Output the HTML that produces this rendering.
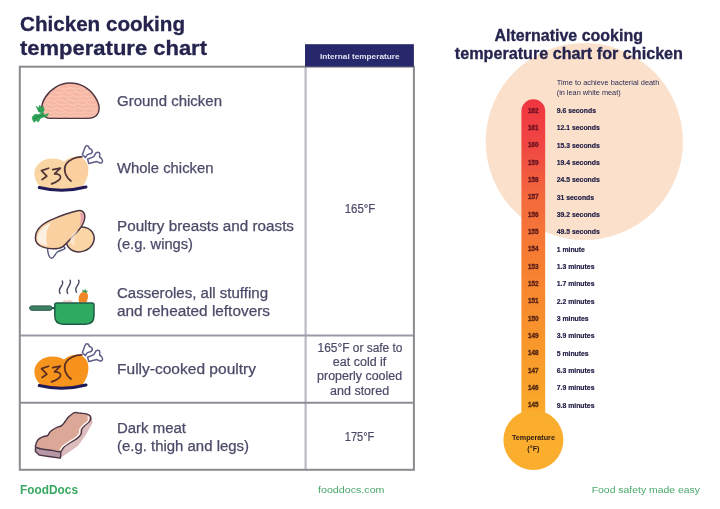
<!DOCTYPE html>
<html lang="en">
<head>
<meta charset="utf-8">
<title>Chicken cooking temperature chart</title>
<style>
html,body{margin:0;padding:0;background:#fff;}
body{width:720px;height:509px;overflow:hidden;position:relative;font-family:"Liberation Sans",sans-serif;}
svg{position:absolute;left:0;top:0;display:block;}
text{font-family:"Liberation Sans",sans-serif;}
.t1{font-weight:700;font-size:20px;fill:#24244e;stroke:#24244e;stroke-width:0.3px;}
.t2{font-weight:700;font-size:15.6px;fill:#24244e;stroke:#24244e;stroke-width:0.3px;}
.lb{font-size:14px;fill:#4b4b69;stroke:#4b4b69;stroke-width:0.25px;}
.tv{font-size:12px;fill:#4b4b69;stroke:#4b4b69;stroke-width:0.2px;text-anchor:middle;}
.ft{font-size:9.6px;fill:#4aa86c;}
.hd{font-size:7.8px;font-weight:700;fill:#e2e2f2;}
.nm{font-size:6.3px;font-weight:700;fill:#5e1420;stroke:#5e1420;stroke-width:0.3px;text-anchor:middle;}
.tm{font-size:7.2px;font-weight:700;fill:#1f1d45;stroke:#1f1d45;stroke-width:0.2px;}
.sm{font-size:7px;fill:#2c2c55;}
.bl{font-size:7.2px;font-weight:700;fill:#2a1a12;text-anchor:middle;}
</style>
</head>
<body>
<svg width="720" height="509" viewBox="0 0 720 509">
<defs>
<linearGradient id="tg" x1="0" y1="0" x2="0" y2="1">
<stop offset="0" stop-color="#f0353f"/>
<stop offset="0.14" stop-color="#f04643"/>
<stop offset="0.3" stop-color="#f3693d"/>
<stop offset="0.5" stop-color="#f67f32"/>
<stop offset="0.75" stop-color="#f8972b"/>
<stop offset="1" stop-color="#fbac2c"/>
</linearGradient>
<filter id="soft" x="0" y="0" width="720" height="509" filterUnits="userSpaceOnUse" color-interpolation-filters="sRGB"><feGaussianBlur stdDeviation="0.62"/></filter>
</defs>
<rect width="720" height="509" fill="#ffffff"/>
<g id="page" filter="url(#soft)">
<rect width="720" height="509" fill="#ffffff"/>

<!-- ===== LEFT: titles ===== -->
<text class="t1" x="20" y="31.3" textLength="165" lengthAdjust="spacingAndGlyphs">Chicken cooking</text>
<text class="t1" x="20" y="55" textLength="187" lengthAdjust="spacingAndGlyphs">temperature chart</text>

<!-- ===== table ===== -->
<g id="table" fill="none">
<line x1="305.6" y1="66.7" x2="305.6" y2="469.8" stroke="#b9b9c4" stroke-width="2.2"/>
<line x1="19.8" y1="335.4" x2="413.9" y2="335.4" stroke="#9a9aa6" stroke-width="2"/>
<line x1="19.8" y1="402.7" x2="413.9" y2="402.7" stroke="#8c8c98" stroke-width="2"/>
<rect x="19.8" y="66.7" width="394.1" height="403.1" stroke="#8a8a90" stroke-width="2"/>
</g>
<rect x="305" y="44.2" width="108.9" height="22.4" fill="#27276b"/>
<text class="hd" x="320" y="58.7" textLength="79.5" lengthAdjust="spacingAndGlyphs">Internal temperature</text>

<!--ICONS-START-->
<!-- ===== icons ===== -->
<g id="icon-ground">
<clipPath id="domeclip"><path d="M45.5 117 C40.8 113.5 40.2 105 45.5 97 C51 88.5 60.5 83 69.5 83 C80 83 89 88 94.8 96.5 C98.6 102 100 108 98.4 112.4 C96.8 116.4 92 118.4 86 118.4 L51 118.4 C48.6 118.4 46.8 118 45.5 117 Z"/></clipPath>
<path d="M45.5 117 C40.8 113.5 40.2 105 45.5 97 C51 88.5 60.5 83 69.5 83 C80 83 89 88 94.8 96.5 C98.6 102 100 108 98.4 112.4 C96.8 116.4 92 118.4 86 118.4 L51 118.4 C48.6 118.4 46.8 118 45.5 117 Z" fill="#f6b7a4"/>
<g fill="none" stroke="#fbd2c3" stroke-width="0.9" stroke-linecap="round" clip-path="url(#domeclip)" opacity="0.85">
<path d="M55.7 88.5 q2.86 -1.8 5.72 0 t5.72 0 t5.72 0 t5.72 0 t5.72 0"/>
<path d="M51.4 92.5 q2.66 -1.8 5.32 0 t5.32 0 t5.32 0 t5.32 0 t5.32 0 t5.32 0 t5.32 0"/>
<path d="M48.3 96.5 q2.71 -1.8 5.42 0 t5.42 0 t5.42 0 t5.42 0 t5.42 0 t5.42 0 t5.42 0 t5.42 0"/>
<path d="M46.0 100.5 q2.66 -1.8 5.32 0 t5.32 0 t5.32 0 t5.32 0 t5.32 0 t5.32 0 t5.32 0 t5.32 0 t5.32 0"/>
<path d="M44.4 104.5 q2.56 -1.8 5.13 0 t5.13 0 t5.13 0 t5.13 0 t5.13 0 t5.13 0 t5.13 0 t5.13 0 t5.13 0 t5.13 0"/>
<path d="M43.2 108.5 q2.68 -1.8 5.36 0 t5.36 0 t5.36 0 t5.36 0 t5.36 0 t5.36 0 t5.36 0 t5.36 0 t5.36 0 t5.36 0"/>
<path d="M42.4 112.5 q2.51 -1.8 5.02 0 t5.02 0 t5.02 0 t5.02 0 t5.02 0 t5.02 0 t5.02 0 t5.02 0 t5.02 0 t5.02 0 t5.02 0"/>
<path d="M42.1 116 q2.54 -1.8 5.08 0 t5.08 0 t5.08 0 t5.08 0 t5.08 0 t5.08 0 t5.08 0 t5.08 0 t5.08 0 t5.08 0 t5.08 0"/>
</g>
<path d="M45.5 117 C40.8 113.5 40.2 105 45.5 97 C51 88.5 60.5 83 69.5 83 C80 83 89 88 94.8 96.5 C98.6 102 100 108 98.4 112.4 C96.8 116.4 92 118.4 86 118.4 L51 118.4 C48.6 118.4 46.8 118 45.5 117 Z" fill="none" stroke="#503542" stroke-width="1.4" stroke-linejoin="round"/>
<g fill="#2fa257" stroke="#2fa257" stroke-width="0.6" stroke-linejoin="round">
<path d="M36 106.2 l2.6 1.8 l1 -2.8 l2.4 2.6 l1.6 -1.2 l0.6 3.6 l-1.6 3 l-4 -1.4 l-1 -2.8 z"/>
<path d="M32.2 117 l2.8 -2.8 l3.6 0.4 l3 -1.6 l3 2 l4 -1.6 l-1.8 3.2 l-3.6 0.6 l-3 1.4 l-1.8 3.4 l-2 -1.4 l-2.4 1.6 l-1.6 -2.8 z"/>
</g>
<path d="M37.5 108.5 l2.5 3 M34.5 118.5 l4 -2.2 l5.5 -0.8" fill="none" stroke="#1f7d45" stroke-width="0.7" stroke-linecap="round"/>
</g>

<g id="icon-chicken" transform="translate(0 -198)">
<g transform="translate(0 198)" fill="#ffffff" stroke="#5e5e88" stroke-width="1.5" stroke-linejoin="round">
<path d="M82.4 154.6 L85 147.6 Q85.6 145.6 87.4 145.9 Q89.2 146.2 89.2 148.6 Q91.6 148.8 92.2 150.6 Q92.8 152.6 90.4 153.8 L87.4 154.6 L85.3 157.6 Z"/>
<path d="M87.6 159.2 L93.8 156.6 L96 152.8 Q97.6 151.6 99.2 152.6 Q100.4 154 99.6 157 Q102.4 158.6 102.6 161 Q102.2 163.4 100.2 163 L96.8 161.6 L88.8 163.6 Z"/>
</g>
<path d="M34.4 371.6 C34.4 363.2 42 356.5 52.2 356.5 C57 356.5 61 357.6 64 359.6 C67 356.4 72 354.8 76.9 354.8 C83.5 354.8 88.4 360.5 88.4 367.2 C88.4 372 87.4 376.4 85.6 379.4 C84.4 382.2 82.6 384.8 80.4 386.4 C72 389 50 389 43 386.6 C38 383.4 34.4 378 34.4 371.6 Z" fill="#f9d5a3"/>
<ellipse cx="77" cy="367.6" rx="11" ry="12.6" fill="#fbcf9f"/>
<path d="M39.2 385.5 Q62.6 391.2 86 385" fill="none" stroke="#211a58" stroke-width="3" stroke-linecap="round"/>
<path d="M81.9 354.9 C76 354.5 69 357.5 65.9 362.4 C63.4 367 64.5 374 71 379" fill="none" stroke="#4f3338" stroke-width="1.7" stroke-linecap="round"/>
<path d="M48.6 366.2 L41.5 368.6 L46.8 374.2 L42.1 377.5 M52.7 367.7 L60.4 366.2 L54.5 371.9 C58.6 371.6 61.2 373.4 60.4 376 C59.6 378.6 55.6 380.4 51.6 381.9" fill="none" stroke="#4f3338" stroke-width="1.7" stroke-linecap="round" stroke-linejoin="round"/>
</g>

<g id="icon-breast">
<ellipse cx="80.2" cy="239.4" rx="14.2" ry="12.2" transform="rotate(-20 80.2 239.4)" fill="#fbd5a6" stroke="#4a3545" stroke-width="1.5"/>
<path d="M47.6 247.4 C47.4 251.5 48.6 257.6 51.4 258.2 C53.8 258.6 54.8 253.8 57.6 251.8 C60.6 250 64 250.2 65.2 248.2 L62 244.6 Z" fill="#ffffff" stroke="#55557f" stroke-width="1.4" stroke-linejoin="round"/>
<path d="M35.4 238 C35.6 229.4 42 224 50 220.4 C60 216 70 212.4 77.6 210.8 C82.4 209.8 85 212.4 84.8 217.2 C84.6 223 80.4 228.6 75.4 233.6 C70.4 238.8 66.4 244 62.4 246.8 C58 249.6 49 249.2 43.6 247.4 C38.6 245.8 35.2 243 35.4 238 Z" fill="#fad0a0" stroke="#4a3545" stroke-width="1.5" stroke-linejoin="round"/>
<path d="M37.4 240.4 C36.8 232.6 42 226 51.5 222.4 C46.5 228.5 45 236.5 47.4 245.6 C42.5 245 38 243.4 37.4 240.4 Z" fill="#fef0e0"/>
<path d="M80 213 C83 212.6 84 215 83.4 218.5 C82.8 221.5 81 224.5 79.5 226 C81 221 81.4 216.8 80 213 Z" fill="#e79ab0"/>
<path d="M70.4 243 C69.4 237.5 73 231.5 78.5 230 C75 234 73.5 239 74.5 246 Z" fill="#fff0df" opacity="0.7"/>
</g>

<g id="icon-casserole">
<g fill="none" stroke="#47475f" stroke-width="1.4" stroke-linecap="round">
<path d="M62.2 281 c2.4 3 -3 6.4 -2.8 9.6 c0.1 1.4 0.3 2.2 0.6 2.8"/>
<path d="M70 280.2 c2.4 3.2 -3.2 6.8 -3 10.4 c0.1 1.4 0.3 2.2 0.6 2.8"/>
<path d="M78.6 280.2 c2.2 2.8 -3 6.2 -2.8 9.2 c0.1 1.4 0.3 2.2 0.6 2.8"/>
</g>
<path d="M62 302.4 q2 -3.6 5.4 -1.6 q3 -2.2 5.6 1.6 z" fill="#f1cfc6"/>
<path d="M79.2 302.4 C77.6 297.5 79.6 292.6 83.6 291.8 C87 291.2 88.8 294.4 87.8 298.2 C87.4 300 87 301.2 86.4 302.4 Z" fill="#f0882b"/>
<path d="M82.8 292 L82.2 289.4 L84.2 290.8 L85.2 288.4 L86.2 291 L88.2 290.6 L86.6 292.8 Z" fill="#3a9a52"/>
<rect x="29.6" y="305.9" width="22.6" height="4.4" rx="2.2" fill="#3f7f62" stroke="#2a5a4a" stroke-width="1"/>
<path d="M52 307 h3 v2.2 h-3 z" fill="#2a5a4a"/>
<path d="M56.6 302.9 H92.2 Q94 302.9 94 304.7 V315.5 Q94 324.2 85.4 324.2 H63.2 Q54.8 324.2 54.8 315.5 V304.7 Q54.8 302.9 56.6 302.9 Z" fill="#2eab60" stroke="#1f5a45" stroke-width="1.5" stroke-linejoin="round"/>
</g>

<g id="icon-cooked" transform="translate(0 0)">
<g transform="translate(0 198)" fill="#ffffff" stroke="#5e5e88" stroke-width="1.5" stroke-linejoin="round">
<path d="M82.4 154.6 L85 147.6 Q85.6 145.6 87.4 145.9 Q89.2 146.2 89.2 148.6 Q91.6 148.8 92.2 150.6 Q92.8 152.6 90.4 153.8 L87.4 154.6 L85.3 157.6 Z"/>
<path d="M87.6 159.2 L93.8 156.6 L96 152.8 Q97.6 151.6 99.2 152.6 Q100.4 154 99.6 157 Q102.4 158.6 102.6 161 Q102.2 163.4 100.2 163 L96.8 161.6 L88.8 163.6 Z"/>
</g>
<path d="M34.4 371.6 C34.4 363.2 42 356.5 52.2 356.5 C57 356.5 61 357.6 64 359.6 C67 356.4 72 354.8 76.9 354.8 C83.5 354.8 88.4 360.5 88.4 367.2 C88.4 372 87.4 376.4 85.6 379.4 C84.4 382.2 82.6 384.8 80.4 386.4 C72 389 50 389 43 386.6 C38 383.4 34.4 378 34.4 371.6 Z" fill="#f7941e"/>
<ellipse cx="77" cy="367.6" rx="11" ry="12.6" fill="#f7931c"/>
<path d="M39.2 385.5 Q62.6 391.2 86 385" fill="none" stroke="#211a58" stroke-width="3" stroke-linecap="round"/>
<path d="M81.9 354.9 C76 354.5 69 357.5 65.9 362.4 C63.4 367 64.5 374 71 379" fill="none" stroke="#5a2e22" stroke-width="1.7" stroke-linecap="round"/>
<path d="M48.6 366.2 L41.5 368.6 L46.8 374.2 L42.1 377.5 M52.7 367.7 L60.4 366.2 L54.5 371.9 C58.6 371.6 61.2 373.4 60.4 376 C59.6 378.6 55.6 380.4 51.6 381.9" fill="none" stroke="#5a2e22" stroke-width="1.7" stroke-linecap="round" stroke-linejoin="round"/>
</g>

<g id="icon-dark">
<path d="M61.0 451.6 L60.4 458.1 L66.3 453.9 L78.1 445.7 L86.4 433.9 L92.9 422.1 L90.5 416.2 Z" fill="#dcbcbc"/>
<path d="M35.6 445.7 L35.4 451.6 L39.2 455.1 L48.6 456.5 L60.4 458.1 L61.0 451.6 Z" fill="#b796a6" stroke="#4a3545" stroke-width="1.4" stroke-linejoin="round"/>
<path d="M35.6 445.7 C35.9 444.4 36.8 441.3 38.0 439.8 C39.2 438.3 41.1 437.5 42.7 436.8 C44.3 436.1 46.1 436.5 47.4 435.6 C48.7 434.7 49.0 432.8 50.4 431.5 C51.8 430.2 53.8 429.0 55.7 428.0 C57.6 427.0 60.0 426.7 61.6 425.6 C63.2 424.5 63.9 423.0 65.1 421.5 C66.3 420.0 67.1 418.3 68.7 416.8 C70.3 415.3 72.6 413.2 74.6 412.6 C76.6 412.0 78.5 413.0 80.5 413.2 C82.5 413.4 84.7 413.3 86.4 413.8 C88.1 414.3 89.9 415.0 90.5 416.2 C91.1 417.4 90.8 419.4 89.9 420.9 C89.0 422.4 86.6 423.6 85.2 425.0 C83.8 426.4 82.4 427.7 81.7 429.2 C81.0 430.7 81.9 432.3 81.1 433.9 C80.3 435.5 78.8 437.1 76.9 438.6 C75.0 440.1 72.1 441.3 69.9 442.7 C67.8 444.1 65.6 445.4 64.0 446.9 C62.4 448.4 62.4 451.0 60.4 451.6 C58.4 452.2 55.2 450.8 52.2 450.4 C49.2 450.0 45.4 449.7 42.7 449.2 C40.0 448.7 37.4 448.1 36.2 447.5 C35.0 446.9 35.3 447.0 35.6 445.7 Z" fill="#dba898" stroke="#4a3545" stroke-width="1.4" stroke-linejoin="round"/>
<path d="M88.2 416.8 C88.2 417.5 89.0 419.5 88.2 420.9 C87.4 422.3 84.8 423.6 83.4 425.0 C82.0 426.4 80.6 427.7 79.9 429.2 C79.2 430.7 80.1 432.4 79.3 433.9 C78.5 435.4 77.0 436.6 75.2 438.0 C73.4 439.4 70.8 440.7 68.7 442.1 C66.6 443.5 64.2 445.0 62.8 446.3 C61.4 447.6 60.8 449.2 60.4 449.8" fill="none" stroke="#fff6f2" stroke-width="1.4" stroke-linecap="round"/>
</g>

<!--ICONS-END-->

<!-- ===== labels ===== -->
<g id="labels">
<text class="lb" x="117" y="105.6" textLength="105" lengthAdjust="spacingAndGlyphs">Ground chicken</text>
<text class="lb" x="117" y="172.7" textLength="96.5" lengthAdjust="spacingAndGlyphs">Whole chicken</text>
<text class="lb" x="117" y="231" textLength="177" lengthAdjust="spacingAndGlyphs">Poultry breasts and roasts</text>
<text class="lb" x="117" y="248.5" textLength="76" lengthAdjust="spacingAndGlyphs">(e.g. wings)</text>
<text class="lb" x="117" y="298" textLength="151" lengthAdjust="spacingAndGlyphs">Casseroles, all stuffing</text>
<text class="lb" x="117" y="315.5" textLength="153" lengthAdjust="spacingAndGlyphs">and reheated leftovers</text>
<text class="lb" x="117" y="374" textLength="139" lengthAdjust="spacingAndGlyphs">Fully-cooked poultry</text>
<text class="lb" x="117" y="433" textLength="69" lengthAdjust="spacingAndGlyphs">Dark meat</text>
<text class="lb" x="117" y="450.5" textLength="132" lengthAdjust="spacingAndGlyphs">(e.g. thigh and legs)</text>
</g>

<!-- ===== temperature values ===== -->
<g id="values">
<text class="tv" x="360" y="212.6" textLength="30.7" lengthAdjust="spacingAndGlyphs">165°F</text>
<text class="tv" x="360" y="351.6" textLength="85" lengthAdjust="spacingAndGlyphs">165°F or safe to</text>
<text class="tv" x="359.6" y="366" textLength="53.5" lengthAdjust="spacingAndGlyphs">eat cold if</text>
<text class="tv" x="359.6" y="380.4" textLength="85" lengthAdjust="spacingAndGlyphs">properly cooled</text>
<text class="tv" x="359.6" y="394.8" textLength="59" lengthAdjust="spacingAndGlyphs">and stored</text>
<text class="tv" x="359.6" y="440.8" textLength="29.5" lengthAdjust="spacingAndGlyphs">175°F</text>
</g>

<!-- ===== footer ===== -->
<text x="20" y="493.6" font-size="13.6" font-weight="700" fill="#38a860" textLength="58" lengthAdjust="spacingAndGlyphs">FoodDocs</text>
<text class="ft" x="318" y="493" textLength="66.5" lengthAdjust="spacingAndGlyphs">fooddocs.com</text>
<text class="ft" x="591.7" y="493" textLength="108.3" lengthAdjust="spacingAndGlyphs">Food safety made easy</text>

<!-- ===== RIGHT: thermometer ===== -->
<circle cx="584.3" cy="141.5" r="98.6" fill="#fbe1cc"/>
<text class="t2" x="494.5" y="40.6" textLength="148.5" lengthAdjust="spacingAndGlyphs">Alternative cooking</text>
<text class="t2" x="454.8" y="58.5" textLength="228.2" lengthAdjust="spacingAndGlyphs">temperature chart for chicken</text>
<text class="sm" x="556.7" y="85" textLength="102.6" lengthAdjust="spacingAndGlyphs">Time to achieve bacterial death</text>
<text class="sm" x="556.7" y="95" textLength="64" lengthAdjust="spacingAndGlyphs">(in lean white meat)</text>
<path d="M521.4 425 V111.1 a11.9 11.9 0 0 1 23.8 0 V425 Z" fill="url(#tg)"/>
<circle cx="533.4" cy="440" r="30" fill="#fbad2d"/>
<text class="bl" x="533.4" y="440" textLength="43" lengthAdjust="spacingAndGlyphs">Temperature</text>
<text class="bl" x="533.4" y="451">(°F)</text>
<g id="rows">
<text class="nm" style="fill:#6a0e22;stroke:#6a0e22" x="533.3" y="112.6">162</text><text class="tm" x="556.7" y="112.8" textLength="39.3" lengthAdjust="spacingAndGlyphs">9.6 seconds</text>
<text class="nm" style="fill:#680f21;stroke:#680f21" x="533.3" y="129.9">161</text><text class="tm" x="556.7" y="130.1" textLength="43.1" lengthAdjust="spacingAndGlyphs">12.1 seconds</text>
<text class="nm" style="fill:#66111f;stroke:#66111f" x="533.3" y="147.3">160</text><text class="tm" x="556.7" y="147.5" textLength="43.1" lengthAdjust="spacingAndGlyphs">15.3 seconds</text>
<text class="nm" style="fill:#64121e;stroke:#64121e" x="533.3" y="164.6">159</text><text class="tm" x="556.7" y="164.8" textLength="43.1" lengthAdjust="spacingAndGlyphs">19.4 seconds</text>
<text class="nm" style="fill:#62141d;stroke:#62141d" x="533.3" y="181.9">158</text><text class="tm" x="556.7" y="182.1" textLength="43.1" lengthAdjust="spacingAndGlyphs">24.5 seconds</text>
<text class="nm" style="fill:#61151c;stroke:#61151c" x="533.3" y="199.3">157</text><text class="tm" x="556.7" y="199.5" textLength="37.4" lengthAdjust="spacingAndGlyphs">31 seconds</text>
<text class="nm" style="fill:#5f161a;stroke:#5f161a" x="533.3" y="216.6">156</text><text class="tm" x="556.7" y="216.8" textLength="43.1" lengthAdjust="spacingAndGlyphs">39.2 seconds</text>
<text class="nm" style="fill:#5d1819;stroke:#5d1819" x="533.3" y="233.9">155</text><text class="tm" x="556.7" y="234.1" textLength="43.1" lengthAdjust="spacingAndGlyphs">49.5 seconds</text>
<text class="nm" style="fill:#5b1918;stroke:#5b1918" x="533.3" y="251.3">154</text><text class="tm" x="556.7" y="251.5" textLength="28.2" lengthAdjust="spacingAndGlyphs">1 minute</text>
<text class="nm" style="fill:#591b16;stroke:#591b16" x="533.3" y="268.6">153</text><text class="tm" x="556.7" y="268.8" textLength="37.8" lengthAdjust="spacingAndGlyphs">1.3 minutes</text>
<text class="nm" style="fill:#571c15;stroke:#571c15" x="533.3" y="285.9">152</text><text class="tm" x="556.7" y="286.1" textLength="37.8" lengthAdjust="spacingAndGlyphs">1.7 minutes</text>
<text class="nm" style="fill:#551e14;stroke:#551e14" x="533.3" y="303.3">151</text><text class="tm" x="556.7" y="303.5" textLength="37.8" lengthAdjust="spacingAndGlyphs">2.2 minutes</text>
<text class="nm" style="fill:#531f12;stroke:#531f12" x="533.3" y="320.6">150</text><text class="tm" x="556.7" y="320.8" textLength="32.0" lengthAdjust="spacingAndGlyphs">3 minutes</text>
<text class="nm" style="fill:#522011;stroke:#522011" x="533.3" y="337.9">149</text><text class="tm" x="556.7" y="338.1" textLength="37.8" lengthAdjust="spacingAndGlyphs">3.9 minutes</text>
<text class="nm" style="fill:#502210;stroke:#502210" x="533.3" y="355.3">148</text><text class="tm" x="556.7" y="355.5" textLength="32.0" lengthAdjust="spacingAndGlyphs">5 minutes</text>
<text class="nm" style="fill:#4e230f;stroke:#4e230f" x="533.3" y="372.6">147</text><text class="tm" x="556.7" y="372.8" textLength="37.8" lengthAdjust="spacingAndGlyphs">6.3 minutes</text>
<text class="nm" style="fill:#4c250d;stroke:#4c250d" x="533.3" y="389.9">146</text><text class="tm" x="556.7" y="390.1" textLength="37.8" lengthAdjust="spacingAndGlyphs">7.9 minutes</text>
<text class="nm" style="fill:#4a260c;stroke:#4a260c" x="533.3" y="407.3">145</text><text class="tm" x="556.7" y="407.5" textLength="37.8" lengthAdjust="spacingAndGlyphs">9.8 minutes</text>
</g>
</g>
</svg>
</body>
</html>
